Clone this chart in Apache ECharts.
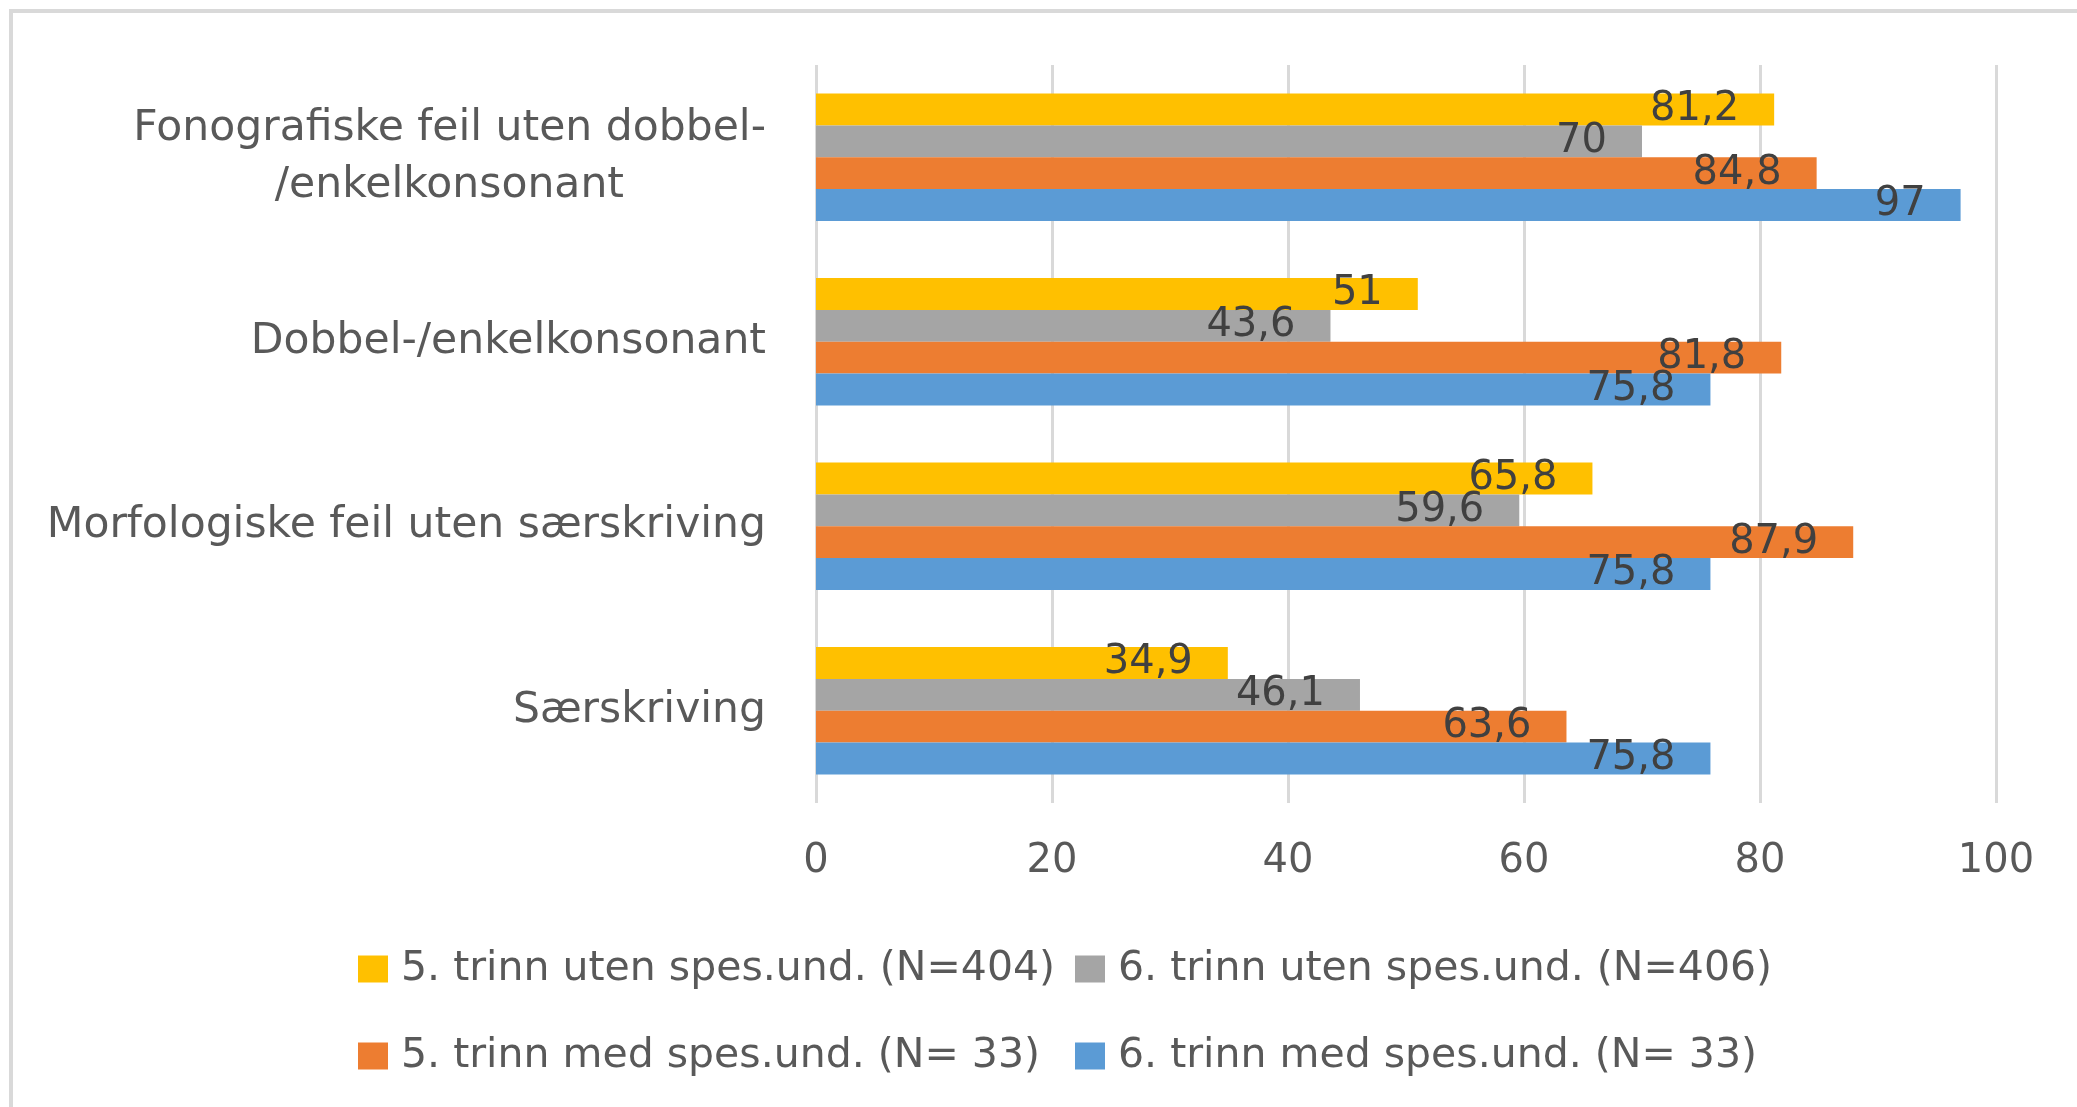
<!DOCTYPE html>
<html>
<head>
<meta charset="utf-8">
<script src="https://cdn.jsdelivr.net/npm/echarts@6/dist/echarts.min.js"></script>
<style>
  html, body { margin: 0; padding: 0; background: #fff; }
  #chart { width: 2077px; height: 1107px; }
</style>
</head>
<body>
<div id="chart"></div>
<script>
const categories = [
  'Fonografiske feil uten dobbel-\n/enkelkonsonant',
  'Dobbel-/enkelkonsonant',
  'Morfologiske feil uten særskriving',
  'Særskriving'
]
const seriesNames = [
  '5. trinn uten spes.und. (N=404)',
  '6. trinn uten spes.und. (N=406)',
  '5. trinn med spes.und. (N= 33)',
  '6. trinn med spes.und. (N= 33)'
]
const grade5Without = [81.2, 51, 65.8, 34.9]
const grade6Without = [70, 43.6, 59.6, 46.1]
const grade5With = [84.8, 81.8, 87.9, 63.6]
const grade6With = [97, 75.8, 75.8, 75.8]
const xTicks = [0, 20, 40, 60, 80, 100]

const colors = ['#FFC000', '#A5A5A5', '#ED7D31', '#5B9BD5']
const FONT = '"DejaVu Sans", sans-serif'
const CAT_SIZE = 42.5

// centre the second line of a two-line category label under the first one
const ctx = document.createElement('canvas').getContext('2d')
ctx.font = CAT_SIZE + 'px "DejaVu Sans"'
const textWidth = s => ctx.measureText(s).width
const linePad = lines => Math.round(Math.max(0, (textWidth(lines[0]) - textWidth(lines[1])) / 2))

const rich = { a: { fontSize: CAT_SIZE, fontFamily: FONT, color: '#595959', lineHeight: 57 } }
categories.forEach(c => {
  const lines = c.split('\n')
  if (lines.length > 1) {
    const pad = linePad(lines)
    rich['b' + pad] = { fontSize: CAT_SIZE, fontFamily: FONT, color: '#595959', lineHeight: 57, padding: [0, pad, 0, 0] }
  }
})

const catLabel = (value) => {
  const lines = value.split('\n')
  if (lines.length < 2) return value
  return '{a|' + lines[0] + '}\n{b' + linePad(lines) + '|' + lines[1] + '}'
}

const makeSeries = (name, data, color) => ({
  name: name,
  type: 'bar',
  data: data,
  barGap: '0%',
  barCategoryGap: '31%',
  itemStyle: { color: color },
  label: {
    show: true,
    position: 'insideRight',
    distance: 35,
    color: '#404040',
    fontSize: 40,
    fontFamily: FONT,
    formatter: p => String(p.value).replace('.', ',')
  }
})

const chart = echarts.init(document.getElementById('chart'))

chart.setOption({
  backgroundColor: '#fff',
  animation: false,
  grid: { left: 816, right: 81, top: 65, height: 738 },
  graphic: [{
    type: 'polyline',
    shape: { points: [[11, 1107], [11, 11], [2077, 11]] },
    style: { stroke: '#D9D9D9', lineWidth: 4, fill: null }
  }],
  legend: [
    {
      orient: 'vertical', left: 353, top: 942, itemGap: 43,
      itemWidth: 30, itemHeight: 27, icon: 'rect',
      data: [seriesNames[0], seriesNames[2]],
      textStyle: { fontSize: 41, fontFamily: FONT, color: '#595959', lineHeight: 44, padding: [0, 0, 0, 8] }
    },
    {
      orient: 'vertical', left: 1070, top: 942, itemGap: 43,
      itemWidth: 30, itemHeight: 27, icon: 'rect',
      data: [seriesNames[1], seriesNames[3]],
      textStyle: { fontSize: 41, fontFamily: FONT, color: '#595959', lineHeight: 44, padding: [0, 0, 0, 8] }
    }
  ],
  xAxis: {
    type: 'value',
    min: xTicks[0],
    max: xTicks[xTicks.length - 1],
    interval: xTicks[1] - xTicks[0],
    axisLine: { show: false },
    axisTick: { show: false },
    axisLabel: { color: '#595959', fontSize: 40, fontFamily: FONT, margin: 39, lineHeight: 40 },
    splitLine: { lineStyle: { color: '#D9D9D9', width: 3 } }
  },
  yAxis: {
    type: 'category',
    inverse: true,
    data: categories,
    axisLine: { show: false },
    axisTick: { show: false },
    axisLabel: {
      color: '#595959', fontSize: CAT_SIZE, fontFamily: FONT, lineHeight: 57,
      margin: 50, formatter: catLabel, rich: rich
    }
  },
  series: [
    makeSeries(seriesNames[0], grade5Without, colors[0]),
    makeSeries(seriesNames[1], grade6Without, colors[1]),
    makeSeries(seriesNames[2], grade5With, colors[2]),
    makeSeries(seriesNames[3], grade6With, colors[3])
  ]
})
</script>
</body>
</html>
